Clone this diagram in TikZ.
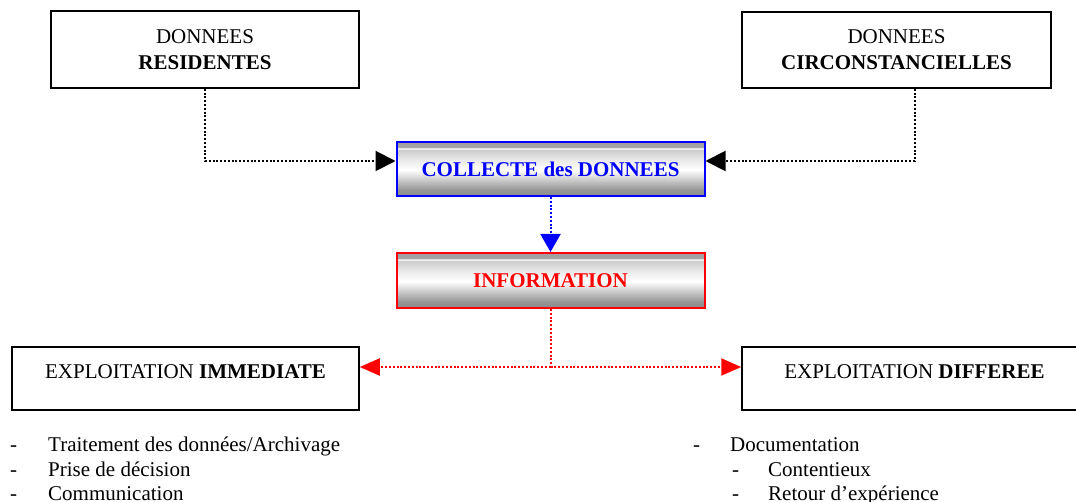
\documentclass[tikz,border=0pt]{standalone}
\usepackage{fontspec}
\setmainfont{Liberation Serif}
\usetikzlibrary{arrows.meta,shadows}

% metallic bar: grey top band, thin highlight, bright middle, darker bottom
\pgfdeclareverticalshading{metalbar}{100bp}{%
  color(0bp)=(black!45); color(25bp)=(black!45); color(30.6bp)=(black!42);
  color(49bp)=(white); color(58bp)=(black!8); color(67.6bp)=(black!20);
  color(69bp)=(white); color(70.4bp)=(black!35); color(75bp)=(black!38);
  color(100bp)=(black!38)}

\tikzset{
  txt/.style={font=\fontsize{21}{26}\selectfont},
  plainbox/.style={txt, draw=black, line width=1.5pt, fill=white, inner sep=0pt,
    drop shadow={shadow xshift=1.2pt, shadow yshift=-1.2pt, fill=black!45, opacity=1}},
  metalbox/.style={txt, shade, shading=metalbar, line width=2pt, inner sep=0pt,
    font=\fontsize{21}{26}\selectfont\bfseries},
  dotline/.style={line width=2pt, dash pattern=on 2pt off 1.8pt},
  blacktip/.style={-{Triangle[length=20pt,width=20pt]}},
  bluetip/.style={-{Triangle[length=18pt,width=20pt]}},
  redtip/.style={-{Triangle[length=20pt,width=17pt]}},
  listitem/.style={txt, anchor=base west, inner sep=0pt},
}

\begin{document}
\begin{tikzpicture}[x=1pt, y=-1pt]
\useasboundingbox (0,0) rectangle (1076,502);

% data sources
\node[plainbox, align=center, minimum width=308pt, minimum height=77pt] (res) at (205,49.5)
  {DONNEES\\\textbf{RESIDENTES}};
\node[plainbox, align=center, minimum width=309pt, minimum height=76pt] (circ) at (896.5,50)
  {DONNEES\\\textbf{CIRCONSTANCIELLES}};

% central chain
\node[metalbox, draw=blue, text=blue, minimum width=308pt, minimum height=54pt] (coll) at (550.5,169)
  {COLLECTE des DONNEES};
\node[metalbox, draw=red, text=red, minimum width=308pt, minimum height=55pt] (info) at (550.5,280.5)
  {INFORMATION};

% exploitation boxes
\node[plainbox, text height=14pt, text depth=13pt, minimum width=347pt, minimum height=63pt] (imm) at (185.5,378.5)
  {EXPLOITATION \textbf{IMMEDIATE}};
\node[plainbox, text height=14pt, text depth=13pt, minimum width=345pt, minimum height=63pt] (diff) at (914.5,378.5)
  {EXPLOITATION \textbf{DIFFEREE}};

% connectors
\draw[dotline, blacktip] (res.south) |- ([yshift=8pt]coll.west);
\draw[dotline, blacktip] ([xshift=18pt]circ.south) |- ([yshift=8pt]coll.east);
\draw[dotline, blue, bluetip] (coll.south) -- (info.north);
\coordinate (split) at (550.5,367);
\draw[dotline, red] (info.south) -- (split);
\draw[dotline, red, redtip] (split) -- (split -| imm.east);
\draw[dotline, red, redtip] (split) -- (split -| diff.west);

% immediate uses
\node[listitem] (d1) at (10,451) {-};
\node[listitem] (i1) at (48,451) {Traitement des données/Archivage};
\node[listitem] (d2) at (10,476) {-};
\node[listitem] (i2) at (48,476) {Prise de décision};
\node[listitem] (d3) at (10,500) {-};
\node[listitem] (i3) at (48,500) {Communication};

% deferred uses
\node[listitem] (e1) at (693,451) {-};
\node[listitem] (j1) at (730,451) {Documentation};
\node[listitem] (e2) at (732,476) {-};
\node[listitem] (j2) at (768,476) {Contentieux};
\node[listitem] (e3) at (732,500) {-};
\node[listitem] (j3) at (768,500) {Retour d’expérience};
\end{tikzpicture}
\end{document}
